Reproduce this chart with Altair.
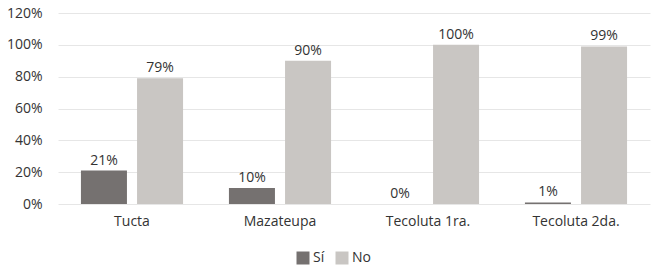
import altair as alt
import pandas as pd

categories = ["Tucta", "Mazateupa", "Tecoluta 1ra.", "Tecoluta 2da."]
series = ["Sí", "No"]
si_values = [21, 10, 0, 1]
no_values = [79, 90, 100, 99]
y_ticks = [0, 20, 40, 60, 80, 100, 120]

rows = []
for c, s_val, n_val in zip(categories, si_values, no_values):
    rows.append({"cat": c, "serie": "Sí", "val": s_val, "lbl": f"{s_val}%"})
    rows.append({"cat": c, "serie": "No", "val": n_val, "lbl": f"{n_val}%"})
df = pd.DataFrame(rows)

FONT = "Open Sans"
TXT = "#333333"
FS = 14

x = alt.X("cat:N", sort=categories, title=None,
          scale=alt.Scale(paddingInner=0.31, paddingOuter=0.155),
          axis=alt.Axis(labelAngle=0, domain=False, ticks=False, labelPadding=10,
                        labelFont=FONT, labelFontSize=FS, labelColor=TXT))
xo = alt.XOffset("serie:N", sort=series,
                 scale=alt.Scale(paddingInner=0.18, paddingOuter=0))
y = alt.Y("val:Q", title=None,
          scale=alt.Scale(domain=[0, 120], nice=False),
          axis=alt.Axis(values=y_ticks, labelExpr="datum.value + '%'",
                        domain=False, ticks=False, labelPadding=16, labelOverlap=False,
                        labelFont=FONT, labelFontSize=FS, labelColor=TXT,
                        gridColor="#e6e6e6", gridWidth=1))

color = alt.Color("serie:N", sort=series,
                  scale=alt.Scale(domain=series, range=["#757170", "#c9c6c3"]),
                  legend=alt.Legend(title=None, orient="none", direction="horizontal",
                                    legendX=238, legendY=238,
                                    symbolType="square", symbolSize=169,
                                    symbolStrokeWidth=0, labelFont=FONT,
                                    labelFontSize=FS, labelColor=TXT,
                                    columnPadding=10, labelOffset=3))

base = alt.Chart(df).encode(x=x, xOffset=xo, y=y)
bars = base.mark_bar().encode(color=color)
labels = base.mark_text(baseline="bottom", dy=-3, font=FONT,
                        fontSize=FS, color=TXT).encode(text="lbl:N")

chart = (bars + labels).properties(
    width=592, height=191,
    autosize=alt.AutoSizeParams(type="none"),
    padding={"left": 58, "top": 13, "right": 8, "bottom": 65},
).configure(background="white", view=alt.ViewConfig(stroke=None))

chart.save("out.html", embed_options={"renderer": "svg", "actions": False})
